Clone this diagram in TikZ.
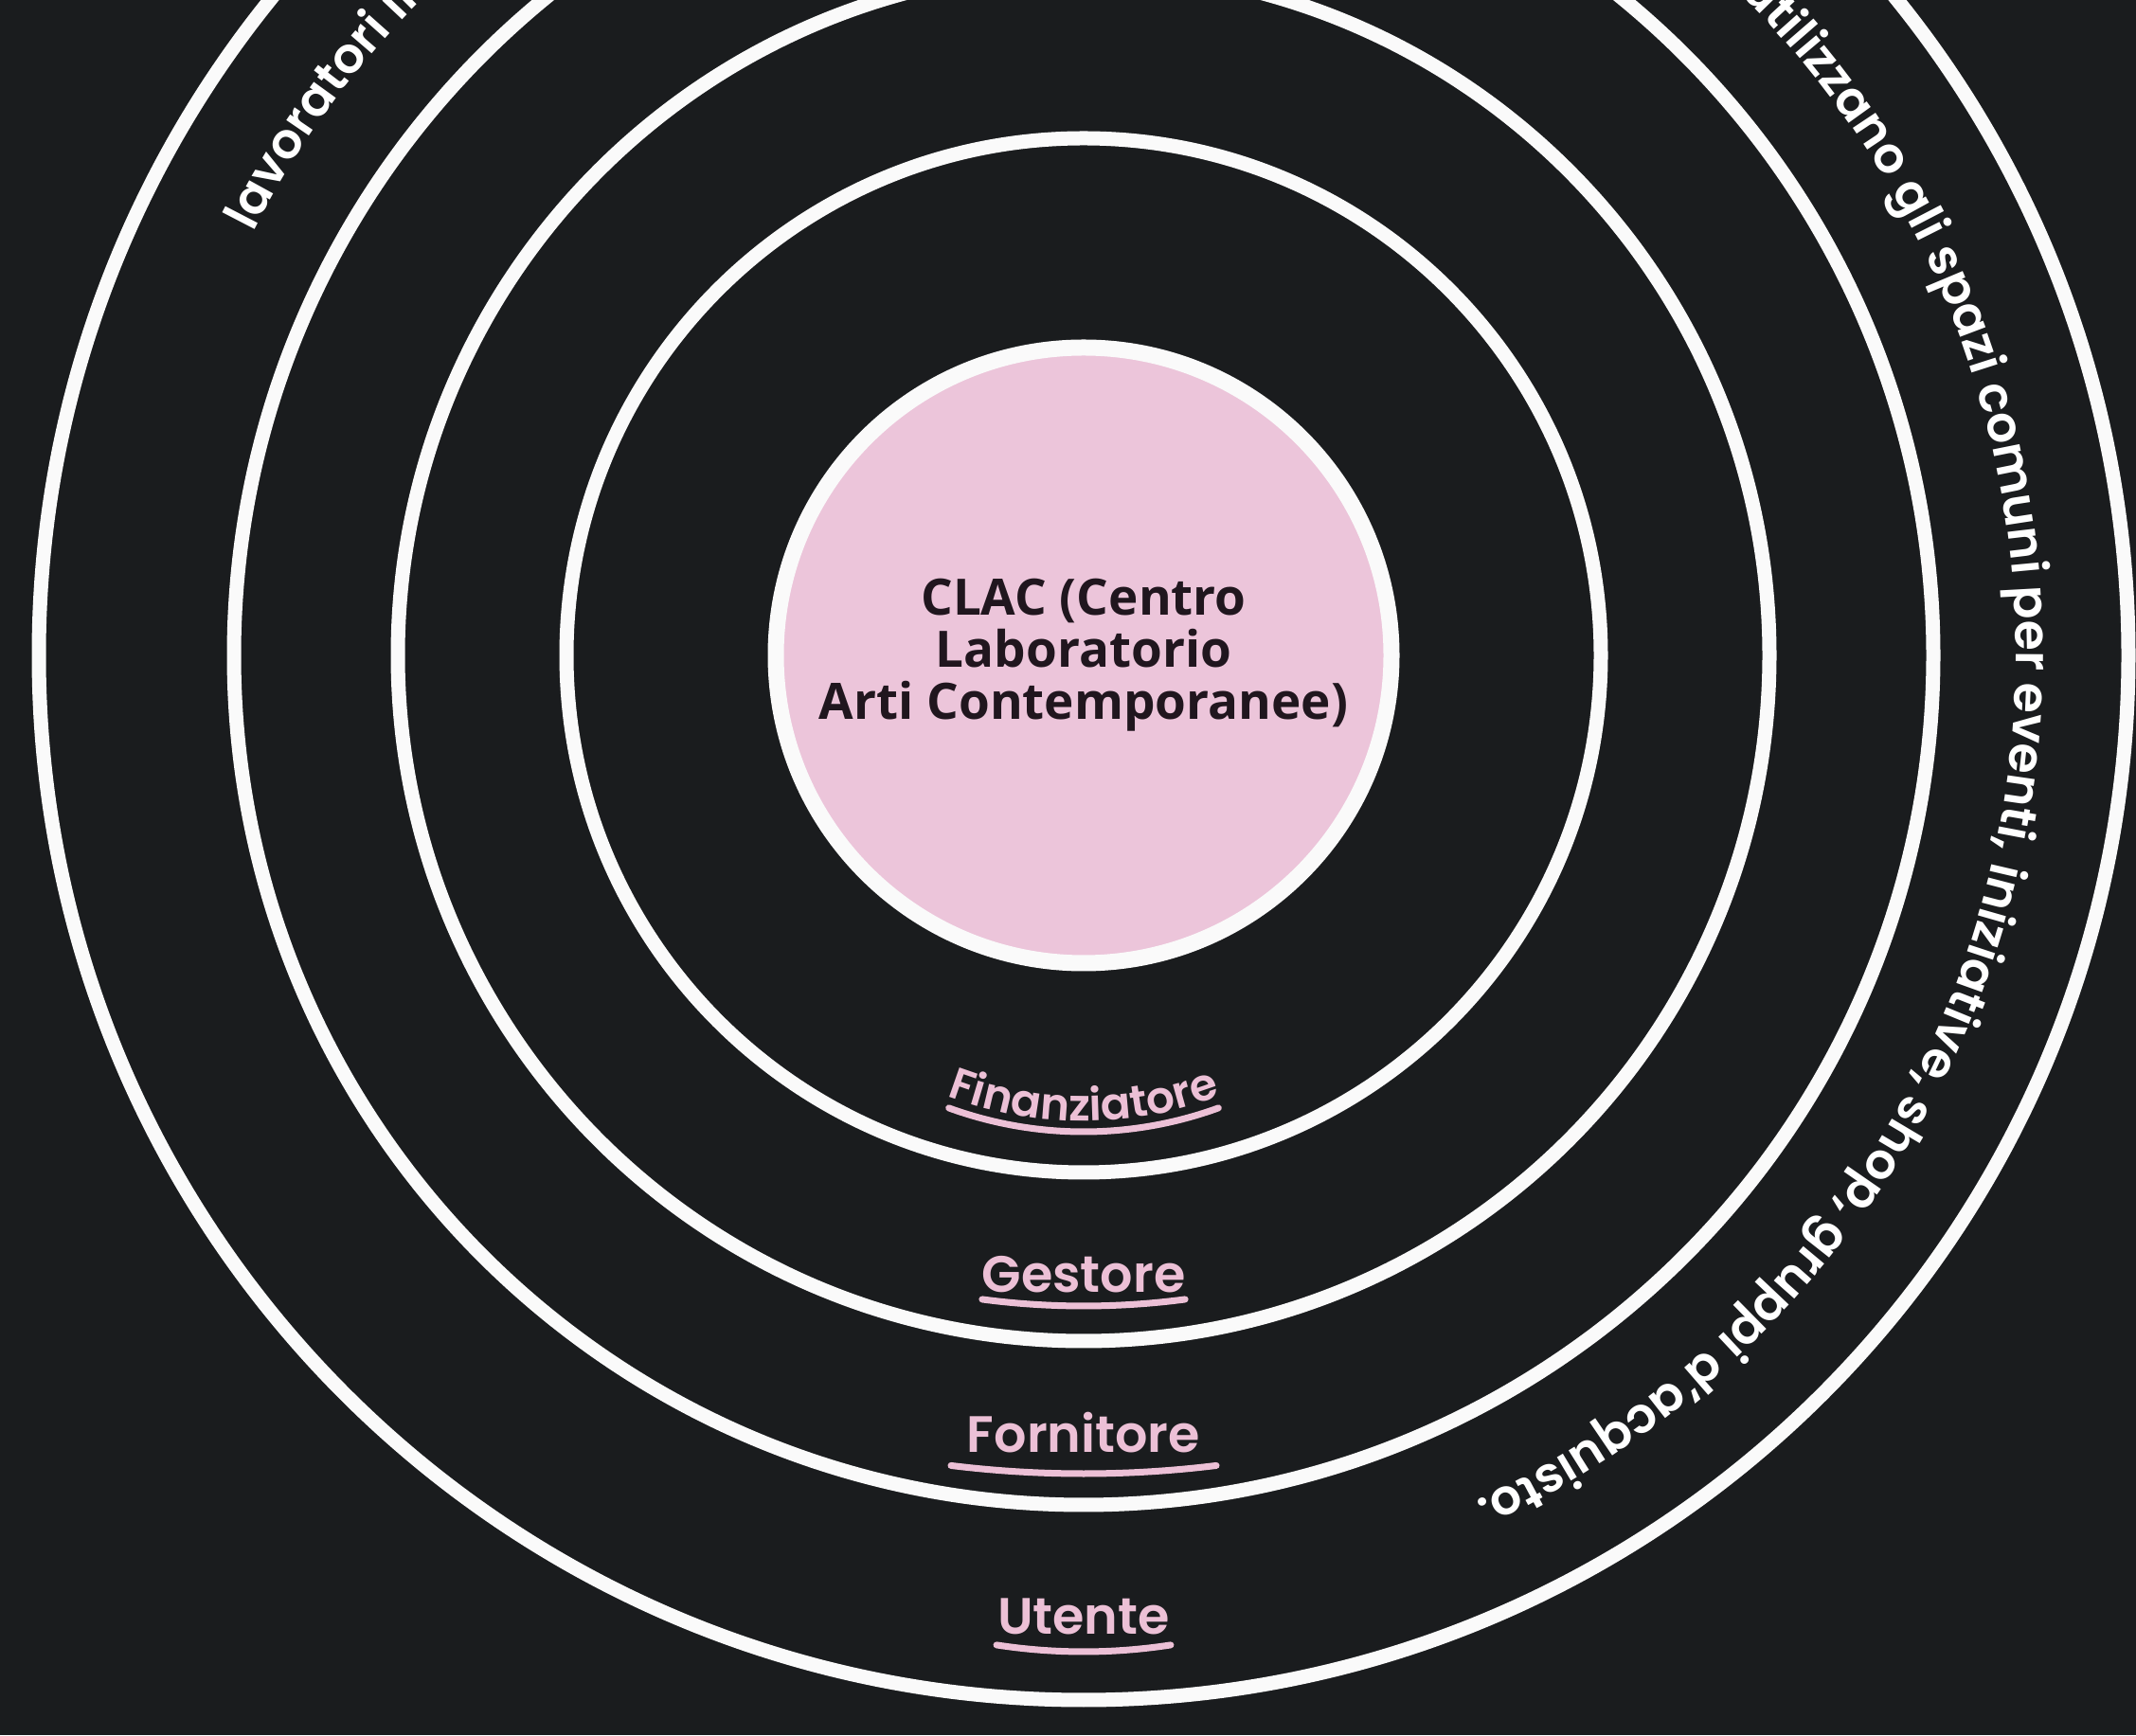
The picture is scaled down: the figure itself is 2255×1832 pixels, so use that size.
\documentclass[tikz,border=0pt]{standalone}
\usepackage{fontspec}
\setmainfont{Poppins}[BoldFont={Poppins SemiBold}]
\newfontfamily\centerfont{Open Sans}
\usetikzlibrary{decorations.text}
\definecolor{bgdark}{RGB}{26,28,30}
\definecolor{pinkfill}{RGB}{236,197,218}
\definecolor{pinklabel}{RGB}{236,192,214}
\definecolor{ringwhite}{RGB}{250,250,250}
\definecolor{inktext}{RGB}{32,22,30}
\begin{document}
\begin{tikzpicture}[x=0.5pt,y=0.5pt,
  ring/.style={draw=ringwhite,line width=7.5pt},
  labeltext/.style={font=\bfseries\fontsize{27}{27}\selectfont,text=pinklabel,inner sep=0pt,anchor=base},
  underline/.style={draw=pinklabel,line width=3.5pt,line cap=round}]
\useasboundingbox (0,0) rectangle (2255,1832);
\clip (0,0) rectangle (2255,1832);
\fill[bgdark] (0,0) rectangle (2255,1832);
\coordinate (C) at (1144,1140);
\foreach \r in {546,724,897,1103} \draw[ring] (C) circle[radius=\r];
\node[circle, fill=pinkfill, draw=ringwhite, line width=8.5pt, minimum size=325pt, inner sep=0pt,
  font=\centerfont\bfseries\fontsize{26.5}{27.5}\selectfont, text=inktext, align=center] (clac) at (C)
  {CLAC (Centro\\Laboratorio\\Arti Contemporanee)};
% outer curved texts
\path (C) ++(45.3:984) coordinate (ts);
\path[decorate, decoration={text along path, text align=left, text color=white,
  text={|\bfseries\fontsize{26}{26}\selectfont|utilizzano gli spazi comuni per eventi{,} iniziative{,} shop{,} gruppi d'acquisto.}}]
  (ts) arc[start angle=45.3, end angle=-85, radius=984];
\path (C) ++(153:984) coordinate (ls);
\path[decorate, decoration={text along path, text align=left, text color=white,
  text={|\bfseries\fontsize{26}{26}\selectfont|lavoratori in}}]
  (ls) arc[start angle=153, end angle=100, radius=984];
% Finanziatore
\coordinate (F0) at (1144,1053);
\path (F0) ++(220:405) coordinate (fs);
\path[decorate, decoration={text along path, text align=center, text color=pinklabel,
  text={|\bfseries\fontsize{23.5}{23.5}\selectfont|Finanziatore}}]
  (fs) arc[start angle=220, end angle=320, radius=405];
\path (F0) ++(250:416) coordinate (fu);
\draw[underline] (fu) arc[start angle=250, end angle=290, radius=416];
% Gestore
\node[labeltext] (gestore) at (1144,467) {Gestore};
\coordinate (G0) at (1144,1274);
\path (G0) ++(262.5:821) coordinate (gu);
\draw[underline] (gu) arc[start angle=262.5, end angle=277.5, radius=821];
% Fornitore
\node[labeltext] (fornitore) at (1144,298) {Fornitore};
\coordinate (R0) at (1144,1425);
\path (R0) ++(263:1149) coordinate (ru);
\draw[underline] (ru) arc[start angle=263, end angle=277, radius=1149];
% Utente
\node[labeltext] (utente) at (1144,106) {Utente};
\coordinate (U0) at (1144,689);
\path (U0) ++(261.2:601) coordinate (uu);
\draw[underline] (uu) arc[start angle=261.2, end angle=278.8, radius=601];
\end{tikzpicture}
\end{document}
